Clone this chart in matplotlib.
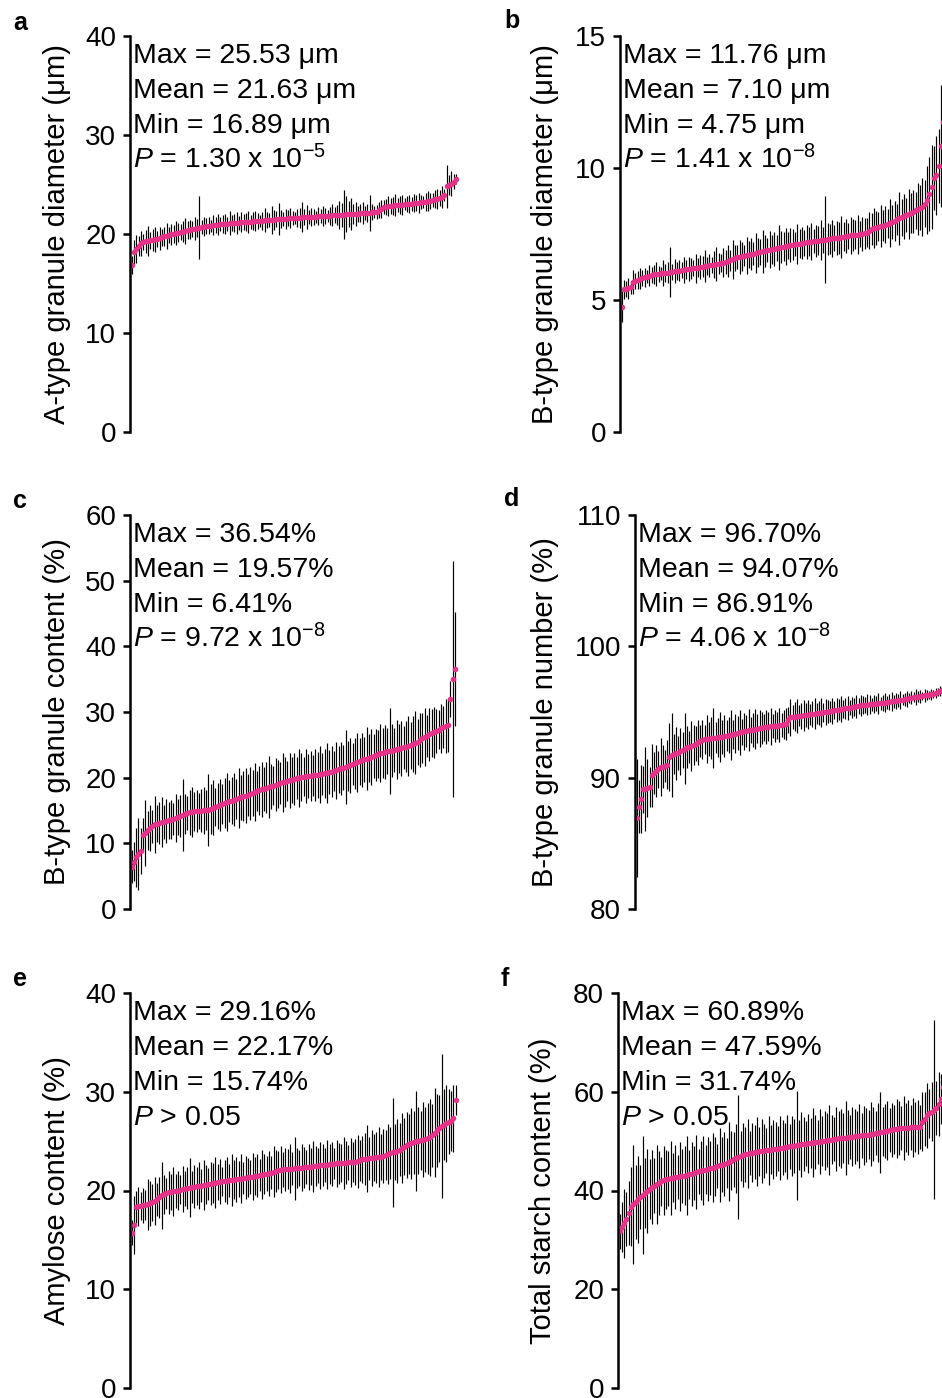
import matplotlib
matplotlib.use("Agg")
import matplotlib.pyplot as plt
import numpy as np

plt.rcParams['font.family'] = ['Liberation Sans', 'DejaVu Sans']
plt.rcParams['mathtext.fontset'] = 'custom'
plt.rcParams['mathtext.rm'] = 'Liberation Sans'
plt.rcParams['mathtext.it'] = 'Liberation Sans:italic'

PINK = '#e5338a'

# ---- data (sorted line means and their SD) ----
a_mean = [16.89, 18.20, 18.45, 18.75, 19.05, 19.15, 19.25, 19.30, 19.35, 19.40,
          19.45, 19.50, 19.55, 19.65, 19.75, 19.80, 19.90, 19.95, 20.00, 20.10,
          20.15, 20.20, 20.25, 20.30, 20.40, 20.45, 20.50, 20.55, 20.60, 20.65,
          20.70, 20.75, 20.80, 20.85, 20.85, 20.90, 20.90, 20.95, 21.00, 21.00,
          21.05, 21.05, 21.10, 21.10, 21.10, 21.15, 21.15, 21.20, 21.20, 21.20,
          21.25, 21.25, 21.30, 21.30, 21.30, 21.35, 21.35, 21.40, 21.40, 21.40,
          21.45, 21.45, 21.50, 21.50, 21.50, 21.55, 21.55, 21.60, 21.60, 21.60,
          21.65, 21.65, 21.65, 21.70, 21.70, 21.70, 21.70, 21.75, 21.75, 21.75,
          21.80, 21.80, 21.80, 21.85, 21.85, 21.85, 21.90, 21.90, 21.90, 21.95,
          21.95, 21.95, 22.00, 22.00, 22.00, 22.05, 22.05, 22.05, 22.10, 22.10,
          22.10, 22.15, 22.15, 22.20, 22.20, 22.25, 22.40, 22.55, 22.70, 22.75,
          22.80, 22.85, 22.85, 22.90, 22.90, 22.95, 22.95, 23.00, 23.00, 23.05,
          23.05, 23.10, 23.10, 23.15, 23.20, 23.20, 23.25, 23.30, 23.35, 23.40,
          23.50, 23.55, 23.65, 23.75, 23.90, 24.80, 24.95, 25.10, 25.30, 25.53]
a_err = [0.9, 1.2, 1.4, 1.0, 1.3, 0.8, 1.2, 1.5, 0.9, 1.1,
         1.3, 0.8, 1.2, 0.9, 1.0, 1.3, 0.8, 1.1, 0.9, 1.2,
         1.0, 0.8, 1.1, 1.3, 0.9, 1.0, 0.8, 1.2, 0.9, 3.2,
         0.7, 1.0, 0.8, 0.9, 0.6, 1.0, 0.8, 1.1, 0.7, 0.9,
         1.0, 0.7, 1.2, 0.8, 0.9, 1.1, 0.7, 1.0, 0.8, 0.9,
         1.1, 0.7, 0.9, 1.0, 0.8, 0.6, 0.9, 1.2, 0.8, 0.7,
         1.4, 1.0, 0.8, 1.6, 0.9, 0.7, 1.0, 0.8, 1.0, 0.7,
         0.6, 0.9, 1.0, 1.5, 0.8, 1.2, 0.7, 0.9, 0.8, 0.6,
         0.9, 0.7, 1.0, 0.8, 0.6, 0.9, 1.1, 0.8, 1.0, 1.4,
         1.2, 2.5, 1.8, 1.3, 1.6, 1.0, 1.2, 0.8, 0.9, 1.1,
         0.7, 0.9, 1.8, 0.8, 0.6, 0.7, 0.8, 0.9, 0.7, 0.8,
         1.0, 0.8, 0.9, 1.1, 0.7, 0.9, 1.0, 0.6, 0.8, 0.9,
         0.7, 0.9, 0.8, 1.0, 0.7, 0.6, 0.9, 1.0, 0.8, 0.7,
         0.9, 1.0, 0.8, 1.1, 0.6, 2.2, 1.0, 1.3, 0.8, 0.5]

b_mean = [4.75, 5.40, 5.42, 5.45, 5.48, 5.68, 5.72, 5.76, 5.80, 5.83,
          5.86, 5.89, 5.92, 5.95, 5.97, 5.98, 6.00, 6.01, 6.02, 6.03,
          6.04, 6.06, 6.07, 6.09, 6.10, 6.11, 6.13, 6.14, 6.16, 6.17,
          6.18, 6.20, 6.21, 6.23, 6.24, 6.26, 6.28, 6.29, 6.31, 6.33,
          6.34, 6.36, 6.38, 6.40, 6.42, 6.44, 6.47, 6.50, 6.54, 6.58,
          6.62, 6.64, 6.66, 6.68, 6.70, 6.72, 6.74, 6.76, 6.78, 6.80,
          6.82, 6.84, 6.86, 6.88, 6.90, 6.92, 6.94, 6.96, 6.98, 7.00,
          7.02, 7.04, 7.06, 7.08, 7.10, 7.11, 7.13, 7.14, 7.16, 7.17,
          7.19, 7.20, 7.21, 7.23, 7.24, 7.25, 7.27, 7.28, 7.29, 7.30,
          7.31, 7.33, 7.34, 7.35, 7.36, 7.38, 7.40, 7.42, 7.43, 7.45,
          7.46, 7.47, 7.48, 7.50, 7.51, 7.52, 7.54, 7.62, 7.69, 7.72,
          7.74, 7.77, 7.80, 7.82, 7.85, 7.88, 7.92, 7.96, 8.00, 8.05,
          8.09, 8.13, 8.17, 8.22, 8.26, 8.30, 8.35, 8.40, 8.45, 8.49,
          8.52, 8.65, 8.79, 9.00, 9.28, 9.62, 9.73, 10.08, 10.83, 11.76]
b_err = [0.60, 0.35, 0.30, 0.40, 0.25, 0.45, 0.30, 0.35, 0.40, 0.30,
         0.35, 0.25, 0.40, 0.30, 0.35, 0.45, 0.30, 0.25, 0.50, 0.35,
         0.40, 0.95, 0.30, 0.45, 0.35, 0.40, 0.30, 0.50, 0.35, 0.45,
         0.40, 0.30, 0.55, 0.35, 0.45, 0.40, 0.60, 0.35, 0.45, 0.30,
         0.50, 0.65, 0.40, 0.35, 0.55, 0.45, 0.60, 0.40, 0.75, 0.50,
         0.45, 0.65, 0.55, 0.40, 0.70, 0.50, 0.60, 0.45, 0.75, 0.55,
         0.50, 0.80, 0.60, 0.45, 0.70, 0.55, 0.65, 0.50, 0.85, 0.60,
         0.55, 0.70, 0.50, 0.65, 0.60, 0.45, 0.75, 0.55, 0.60, 0.50,
         0.65, 0.55, 0.70, 0.45, 0.60, 0.55, 0.75, 0.50, 1.66, 0.60,
         0.55, 0.70, 0.50, 0.65, 0.60, 0.80, 0.55, 0.65, 0.50, 0.70,
         0.60, 0.55, 0.75, 0.50, 0.65, 0.60, 0.55, 0.70, 0.60, 0.75,
         0.65, 0.55, 0.80, 0.60, 0.70, 0.55, 0.90, 0.65, 0.75, 0.60,
         1.00, 0.70, 0.85, 0.65, 0.95, 0.75, 0.80, 0.70, 1.00, 0.85,
         1.10, 0.90, 1.30, 1.40, 1.60, 1.20, 1.50, 1.40, 2.30, 1.50]

c_mean = [6.41, 7.20, 7.90, 8.40, 8.80, 11.30, 11.60, 12.00, 12.30, 12.60,
          12.90, 13.00, 13.10, 13.20, 13.30, 13.40, 13.50, 13.60, 13.70, 13.85,
          14.00, 14.15, 14.30, 14.45, 14.60, 14.70, 14.80, 14.85, 14.90, 14.95,
          15.00, 15.05, 15.10, 15.10, 15.25, 15.40, 15.55, 15.70, 15.85, 16.00,
          16.15, 16.30, 16.40, 16.50, 16.65, 16.75, 16.90, 17.00, 17.15, 17.25,
          17.40, 17.55, 17.70, 17.80, 17.95, 18.05, 18.20, 18.30, 18.45, 18.55,
          18.70, 18.80, 18.95, 19.05, 19.20, 19.30, 19.40, 19.50, 19.60, 19.70,
          19.80, 19.90, 20.00, 20.10, 20.15, 20.20, 20.25, 20.30, 20.35, 20.40,
          20.45, 20.50, 20.55, 20.65, 20.75, 20.85, 20.90, 21.00, 21.10, 21.25,
          21.40, 21.50, 21.65, 21.80, 21.90, 22.05, 22.20, 22.35, 22.50, 22.65,
          22.80, 22.90, 23.00, 23.15, 23.30, 23.45, 23.60, 23.70, 23.80, 23.90,
          24.00, 24.05, 24.10, 24.20, 24.30, 24.40, 24.50, 24.60, 24.70, 24.80,
          24.90, 25.10, 25.30, 25.50, 25.80, 26.00, 26.20, 26.40, 26.60, 26.80,
          26.90, 27.10, 27.30, 27.50, 27.70, 27.90, 28.00, 32.00, 35.00, 36.54]
c_err = [2.5, 3.0, 4.5, 5.5, 3.5, 2.5, 5.0, 3.0, 3.5, 2.5,
         4.3, 2.8, 3.2, 3.8, 2.6, 3.4, 2.8, 3.0, 2.4, 3.6,
         2.8, 3.2, 5.5, 3.0, 2.6, 3.4, 3.8, 2.9, 3.2, 2.7,
         3.3, 3.6, 3.0, 5.5, 3.8, 4.2, 2.9, 3.5, 4.0, 3.1,
         3.8, 4.4, 3.2, 3.6, 4.0, 3.0, 4.6, 3.4, 3.8, 4.2,
         3.2, 4.0, 3.5, 4.4, 3.0, 3.7, 4.2, 3.3, 3.9, 4.7,
         3.4, 3.0, 4.1, 3.6, 3.2, 4.5, 3.8, 3.0, 4.2, 3.5,
         3.9, 3.2, 4.4, 3.6, 3.0, 4.1, 3.4, 3.8, 3.1, 4.0,
         3.5, 4.3, 3.2, 3.7, 4.6, 3.3, 3.9, 3.1, 4.4, 3.6,
         4.0, 3.4, 5.6, 3.8, 4.2, 3.2, 3.9, 4.5, 3.6, 4.1,
         3.4, 4.8, 3.7, 4.2, 3.3, 4.0, 3.6, 4.4, 3.8, 4.1,
         3.5, 6.6, 4.0, 3.4, 4.5, 3.7, 4.2, 3.3, 3.9, 4.6,
         3.6, 4.3, 4.8, 3.5, 4.1, 3.8, 4.4, 3.2, 4.0, 3.6,
         3.9, 3.4, 3.0, 3.7, 3.2, 4.1, 4.1, 2.7, 18.0, 8.7]

d_mean = [86.91, 87.80, 88.40, 89.10, 89.15, 89.20, 89.30, 90.20, 90.35, 90.50,
          90.65, 90.80, 90.85, 90.90, 91.00, 91.60, 91.70, 91.80, 91.85, 91.90,
          92.00, 92.10, 92.20, 92.30, 92.35, 92.40, 92.50, 92.60, 92.70, 92.80,
          92.90, 92.92, 92.95, 92.97, 93.00, 93.02, 93.05, 93.07, 93.08, 93.10,
          93.15, 93.20, 93.25, 93.28, 93.32, 93.36, 93.40, 93.45, 93.50, 93.53,
          93.56, 93.60, 93.63, 93.66, 93.70, 93.73, 93.76, 93.80, 93.82, 93.85,
          93.87, 93.90, 93.92, 93.95, 93.97, 94.00, 94.03, 94.06, 94.10, 94.40,
          94.60, 94.62, 94.65, 94.67, 94.70, 94.72, 94.75, 94.77, 94.80, 94.82,
          94.85, 94.87, 94.90, 94.92, 94.95, 94.97, 95.00, 95.03, 95.06, 95.10,
          95.13, 95.16, 95.19, 95.22, 95.25, 95.28, 95.31, 95.34, 95.37, 95.40,
          95.43, 95.46, 95.50, 95.52, 95.54, 95.56, 95.58, 95.60, 95.62, 95.64,
          95.66, 95.68, 95.70, 95.72, 95.74, 95.76, 95.80, 95.83, 95.86, 95.89,
          95.92, 95.95, 95.98, 96.01, 96.05, 96.10, 96.13, 96.16, 96.18, 96.20,
          96.23, 96.26, 96.29, 96.32, 96.35, 96.40, 96.45, 96.52, 96.60, 96.70]
d_err = [4.5, 2.0, 2.6, 1.8, 3.2, 2.2, 1.5, 2.4, 1.6, 2.0,
         1.4, 2.2, 1.6, 1.2, 1.9, 2.6, 3.2, 1.5, 2.0, 1.3,
         1.8, 1.4, 2.7, 1.6, 1.2, 1.9, 1.5, 1.3, 1.7, 1.2,
         1.5, 1.1, 1.8, 1.3, 1.6, 2.3, 1.2, 1.5, 1.9, 1.3,
         1.6, 1.2, 1.4, 1.9, 1.1, 1.5, 1.3, 1.7, 1.0, 1.4,
         1.2, 1.6, 1.0, 1.3, 1.5, 1.1, 1.4, 1.2, 1.0, 1.3,
         1.1, 1.4, 0.9, 1.2, 1.0, 1.3, 0.9, 1.1, 1.2, 1.0,
         1.4, 0.9, 1.1, 1.3, 0.8, 1.0, 1.2, 0.9, 1.1, 0.8,
         1.0, 1.2, 0.8, 0.9, 1.1, 0.7, 1.0, 0.9, 0.8, 1.0,
         0.7, 0.9, 0.8, 1.0, 0.7, 0.8, 0.9, 0.6, 0.8, 0.7,
         0.9, 0.6, 0.8, 0.7, 0.6, 0.8, 0.7, 0.5, 0.7, 0.6,
         0.8, 0.5, 0.6, 0.7, 0.5, 0.6, 0.7, 0.5, 0.6, 0.5,
         0.7, 0.4, 0.5, 0.6, 0.4, 0.5, 0.4, 0.6, 0.4, 0.5,
         0.3, 0.5, 0.4, 0.3, 0.4, 0.3, 0.4, 0.3, 0.4, 0.3]

e_mean = [15.74, 16.50, 18.30, 18.40, 18.45, 18.50, 18.55, 18.60, 18.70, 18.80,
          18.95, 19.10, 19.30, 19.50, 19.60, 19.70, 19.80, 19.85, 19.90, 19.95,
          20.00, 20.10, 20.15, 20.20, 20.25, 20.30, 20.35, 20.40, 20.45, 20.48,
          20.50, 20.55, 20.60, 20.65, 20.70, 20.75, 20.80, 20.85, 20.90, 20.93,
          20.96, 21.00, 21.03, 21.06, 21.09, 21.12, 21.15, 21.20, 21.25, 21.30,
          21.33, 21.36, 21.40, 21.45, 21.50, 21.55, 21.60, 21.65, 21.70, 21.75,
          21.82, 21.90, 21.97, 22.05, 22.10, 22.13, 22.15, 22.18, 22.20, 22.22,
          22.24, 22.26, 22.28, 22.30, 22.33, 22.36, 22.39, 22.42, 22.45, 22.48,
          22.51, 22.54, 22.57, 22.60, 22.63, 22.66, 22.70, 22.72, 22.74, 22.76,
          22.78, 22.80, 22.82, 22.84, 22.86, 22.88, 22.90, 22.95, 23.05, 23.15,
          23.20, 23.23, 23.26, 23.29, 23.32, 23.35, 23.38, 23.40, 23.50, 23.60,
          23.70, 23.80, 23.85, 23.90, 24.00, 24.15, 24.30, 24.45, 24.60, 24.70,
          24.80, 24.90, 25.00, 25.05, 25.10, 25.15, 25.20, 25.30, 25.40, 25.60,
          25.85, 26.10, 26.30, 26.50, 26.65, 26.80, 26.95, 27.05, 27.30, 29.16]
e_err = [1.3, 2.9, 1.6, 2.0, 1.4, 1.8, 1.5, 2.6, 2.3, 1.9,
         2.4, 1.7, 2.1, 3.4, 2.0, 1.6, 2.2, 1.8, 2.5, 1.7,
         2.0, 1.5, 2.3, 1.8, 2.1, 3.0, 1.6, 2.2, 1.9, 2.4,
         1.7, 2.5, 2.0, 1.6, 2.2, 2.0, 2.6, 1.8, 2.3, 1.5,
         2.1, 2.4, 1.7, 2.6, 2.0, 2.3, 1.8, 2.5, 1.6, 2.2,
         2.0, 1.7, 2.4, 1.9, 2.2, 1.6, 2.5, 2.0, 1.8, 2.3,
         1.7, 2.6, 2.1, 1.9, 2.4, 1.8, 2.2, 2.0, 2.5, 1.7,
         3.2, 2.0, 1.8, 2.4, 2.1, 1.7, 2.3, 1.9, 2.6, 2.0,
         1.8, 2.4, 2.1, 1.7, 2.5, 2.0, 2.2, 1.6, 2.4, 2.1,
         1.9, 2.6, 2.2, 1.8, 2.5, 2.0, 2.3, 2.7, 2.1, 2.4,
         2.6, 3.4, 2.2, 2.8, 2.4, 2.6, 3.0, 2.3, 2.7, 2.5,
         3.0, 2.6, 5.5, 2.8, 3.2, 2.7, 3.5, 2.9, 3.3, 3.0,
         3.6, 3.2, 5.1, 3.4, 3.0, 3.8, 3.3, 3.6, 3.9, 3.2,
         4.5, 3.7, 3.4, 7.3, 3.6, 3.9, 3.3, 3.0, 3.4, 1.5]

f_mean = [31.74, 32.60, 33.40, 34.20, 35.40, 36.70, 37.20, 37.70, 38.20, 38.70,
          39.10, 39.50, 39.90, 40.30, 40.70, 41.00, 41.30, 41.60, 41.85, 42.10,
          42.30, 42.40, 42.50, 42.60, 42.70, 42.78, 42.85, 42.92, 43.00, 43.10,
          43.25, 43.40, 43.55, 43.70, 43.85, 44.00, 44.10, 44.20, 44.35, 44.50,
          44.65, 44.80, 44.95, 45.10, 45.25, 45.40, 45.60, 45.80, 46.05, 46.30,
          46.55, 46.80, 47.00, 47.15, 47.30, 47.45, 47.60, 47.68, 47.75, 47.82,
          47.90, 47.97, 48.04, 48.11, 48.18, 48.25, 48.32, 48.40, 48.50, 48.60,
          48.68, 48.76, 48.84, 48.92, 49.00, 49.08, 49.16, 49.24, 49.32, 49.40,
          49.48, 49.55, 49.60, 49.68, 49.76, 49.84, 49.92, 50.00, 50.08, 50.16,
          50.24, 50.32, 50.40, 50.48, 50.55, 50.60, 50.66, 50.72, 50.78, 50.84,
          50.90, 50.96, 51.02, 51.08, 51.14, 51.20, 51.26, 51.32, 51.40, 51.50,
          51.60, 51.70, 51.80, 51.90, 52.00, 52.10, 52.20, 52.30, 52.40, 52.50,
          52.60, 52.65, 52.70, 52.72, 52.74, 52.76, 52.80, 52.84, 52.87, 52.90,
          53.90, 54.50, 55.20, 55.60, 56.00, 56.40, 56.70, 57.60, 58.50, 60.89]
f_err = [3.5, 5.0, 7.0, 5.5, 6.5, 8.0, 12.0, 7.5, 8.8, 6.5,
         12.0, 7.0, 8.5, 6.0, 7.5, 5.5, 8.0, 6.5, 5.0, 7.0,
         6.0, 5.5, 7.5, 5.0, 6.5, 4.5, 7.0, 5.5, 6.0, 8.0,
         5.0, 6.5, 5.5, 7.5, 4.5, 6.0, 7.0, 5.0, 6.5, 5.5,
         7.0, 6.0, 4.5, 7.5, 5.5, 6.5, 5.0, 8.0, 6.0, 5.5,
         7.0, 12.5, 5.0, 6.5, 5.5, 7.0, 4.5, 6.0, 5.5, 7.0,
         5.0, 6.5, 5.5, 4.5, 7.0, 5.0, 6.0, 5.5, 4.5, 6.5,
         5.5, 5.0, 6.5, 4.5, 6.0, 5.5, 11.0, 5.0, 6.5, 5.5,
         4.5, 6.0, 5.0, 7.0, 5.5, 4.5, 6.5, 5.0, 6.0, 5.5,
         7.0, 5.0, 4.5, 6.5, 5.5, 6.0, 5.0, 7.5, 5.5, 4.5,
         6.0, 5.5, 5.0, 6.5, 4.5, 6.0, 5.5, 5.0, 6.5, 5.5,
         4.5, 6.0, 8.2, 5.0, 5.5, 6.0, 4.5, 5.5, 5.0, 6.0,
         5.5, 4.5, 6.5, 5.0, 5.5, 4.5, 6.0, 5.0, 5.5, 4.5,
         6.0, 5.5, 6.5, 5.0, 6.0, 18.2, 5.5, 6.5, 5.0, 6.0]

ylabels = ['A-type granule diameter (μm)', 'B-type granule diameter (μm)',
           'B-type granule content (%)', 'B-type granule number (%)',
           'Amylose content (%)', 'Total starch content (%)']
yticks = [[0, 10, 20, 30, 40], [0, 5, 10, 15], [0, 10, 20, 30, 40, 50, 60],
          [80, 90, 100, 110], [0, 10, 20, 30, 40], [0, 20, 40, 60, 80]]
stats = [['25.53 μm', '21.63 μm', '16.89 μm', r'$P$ = 1.30 x 10$^{-5}$'],
         ['11.76 μm', '7.10 μm', '4.75 μm', r'$P$ = 1.41 x 10$^{-8}$'],
         ['36.54%', '19.57%', '6.41%', r'$P$ = 9.72 x 10$^{-8}$'],
         ['96.70%', '94.07%', '86.91%', r'$P$ = 4.06 x 10$^{-8}$'],
         ['29.16%', '22.17%', '15.74%', r'$P$ > 0.05'],
         ['60.89%', '47.59%', '31.74%', r'$P$ > 0.05']]
letters = ['a', 'b', 'c', 'd', 'e', 'f']
means = [a_mean, b_mean, c_mean, d_mean, e_mean, f_mean]
errs = [a_err, b_err, c_err, d_err, e_err, f_err]

# layout in pixels: spine x, top y, bottom y, px per point, ylabel x, letter x/y
W, H = 942, 1398
geom = [
    (130, 36, 432, 2.335, 57, 20, 23),
    (620, 36, 432, 2.315, 545, 512, 21),
    (130, 515, 909, 2.327, 57, 20, 501),
    (635, 515, 909, 2.199, 545, 512, 499),
    (130, 993, 1388, 2.331, 57, 20, 979),
    (618, 993, 1388, 2.330, 543, 505, 979),
]

fig = plt.figure(figsize=(W / 100, H / 100), dpi=100)

for k in range(6):
    sx, ty, by, ppx, lx, ltx, lty = geom[k]
    m = np.array(means[k])
    e = np.array(errs[k])
    x = np.arange(len(m))
    width_px = 335
    ax = fig.add_axes([sx / W, 1 - by / H, width_px / W, (by - ty) / H])
    x0 = -1.5 / ppx
    ax.set_xlim(x0, x0 + width_px / ppx)
    ax.set_ylim(yticks[k][0], yticks[k][-1])
    ax.vlines(x, m - e, m + e, color='black', lw=0.85)
    ax.plot(x, m, 'o', color=PINK, ms=4, mec='none')

    for s in ['top', 'right', 'bottom']:
        ax.spines[s].set_visible(False)
    ax.spines['left'].set_linewidth(1.8)
    ax.set_xticks([])
    ax.set_yticks(yticks[k])
    ax.tick_params(axis='y', length=5, width=1.8, pad=5, labelsize=20)

    fig.text(lx / W, 1 - (ty + by) / 2 / H, ylabels[k], rotation=90,
             ha='center', va='center', fontsize=21)
    fig.text(ltx / W, 1 - lty / H, letters[k], ha='center', va='center',
             fontsize=18, fontweight='bold')

    names = ['Max = ', 'Mean = ', 'Min = ', '']
    for j in range(4):
        fig.text((sx + 3) / W, 1 - (ty + 27 + 35 * j) / H,
                 names[j] + stats[k][j], ha='left', va='baseline', fontsize=20.5)

fig.savefig('out.png', dpi=100)
